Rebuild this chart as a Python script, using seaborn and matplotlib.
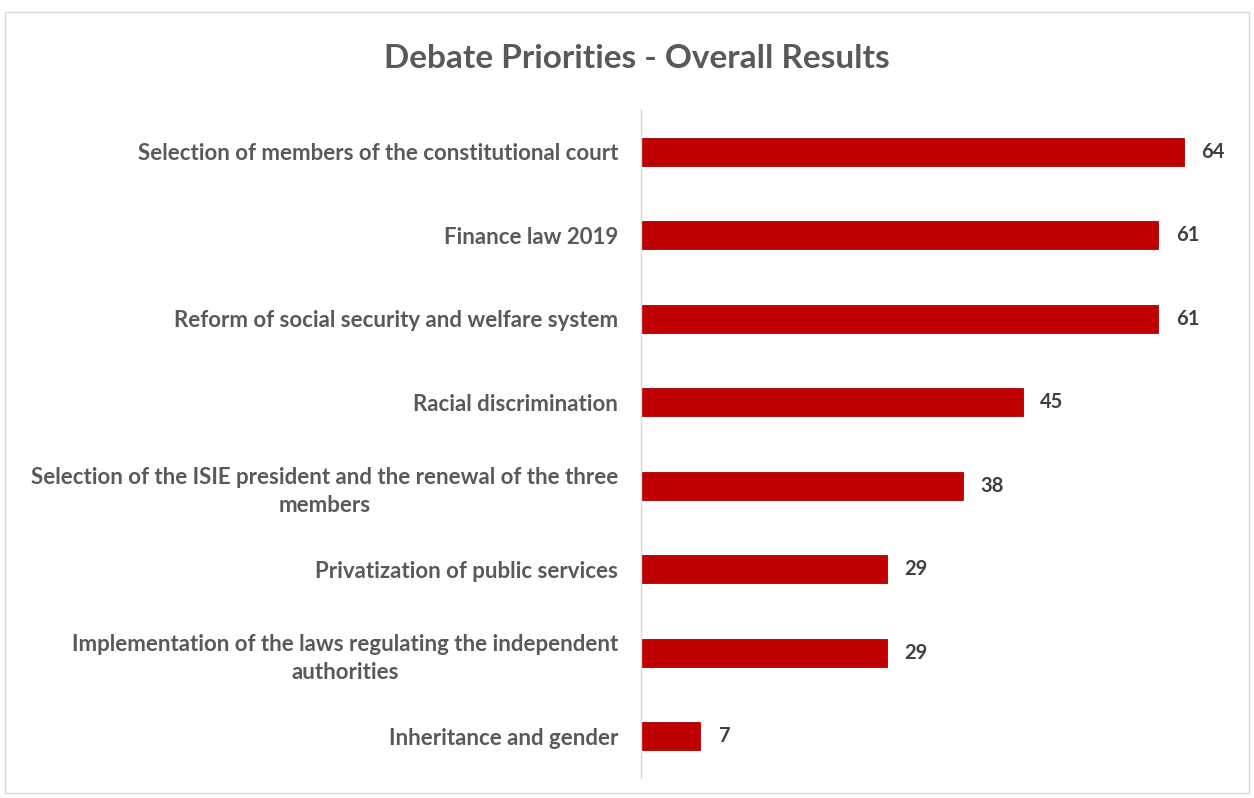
import matplotlib
matplotlib.use("Agg")
import matplotlib.pyplot as plt
import seaborn as sns
import pandas as pd
from matplotlib.patches import Rectangle

categories = [
    "Selection of members of the constitutional court",
    "Finance law 2019",
    "Reform of social security and welfare system",
    "Racial discrimination",
    "Selection of the ISIE president and the renewal of the three\nmembers",
    "Privatization of public services",
    "Implementation of the laws regulating the independent\nauthorities",
    "Inheritance and gender",
]
values = [64, 61, 61, 45, 38, 29, 29, 7]

df = pd.DataFrame({"topic": categories, "score": values})

sns.set_theme(style="white")
plt.rcParams["font.family"] = ["Lato", "DejaVu Sans"]

W, H = 1254, 798
fig = plt.figure(figsize=(W / 100, H / 100), dpi=100)
fig.patch.set_facecolor("white")

# outer frame of the chart area
fig.add_artist(Rectangle((5 / W, 5 / H), 1244 / W, (793 - 12) / H, transform=fig.transFigure,
                         fill=False, edgecolor="#d9d9d9", linewidth=1.0))

ax = fig.add_axes([641 / W, 1 - 778 / H, 600 / W, 668 / H])
sns.barplot(data=df, y="topic", x="score", orient="h", color="#C00000",
            width=0.33, edgecolor="#A80000", linewidth=0.6, saturation=1, ax=ax)

ax.set_xlim(0, 70.75)
ax.set_ylim(7.5, -0.5)
ax.set_xlabel("")
ax.set_ylabel("")
ax.set_xticks([])
for side in ["top", "right", "bottom"]:
    ax.spines[side].set_visible(False)
ax.spines["left"].set_color("#d9d9d9")
ax.spines["left"].set_linewidth(1.0)

ax.tick_params(axis="y", length=0, pad=16.5)
for lbl in ax.get_yticklabels():
    lbl.set_fontsize(16)
    lbl.set_fontweight("bold")
    lbl.set_color("#595959")
    lbl.set_multialignment("center")
    lbl.set_linespacing(1.45)

for i, v in enumerate(values):
    ax.annotate(str(v), xy=(v, i), xytext=(12.5, 0), textcoords="offset points",
                va="center", ha="left", fontsize=14.5, fontweight="bold", color="#404040")

fig.text(637 / W, 1 - 58 / H, "Debate Priorities - Overall Results", ha="center", va="center",
         fontsize=24, fontweight="bold", color="#595959")

fig.savefig("out.png", dpi=100, facecolor="white")
